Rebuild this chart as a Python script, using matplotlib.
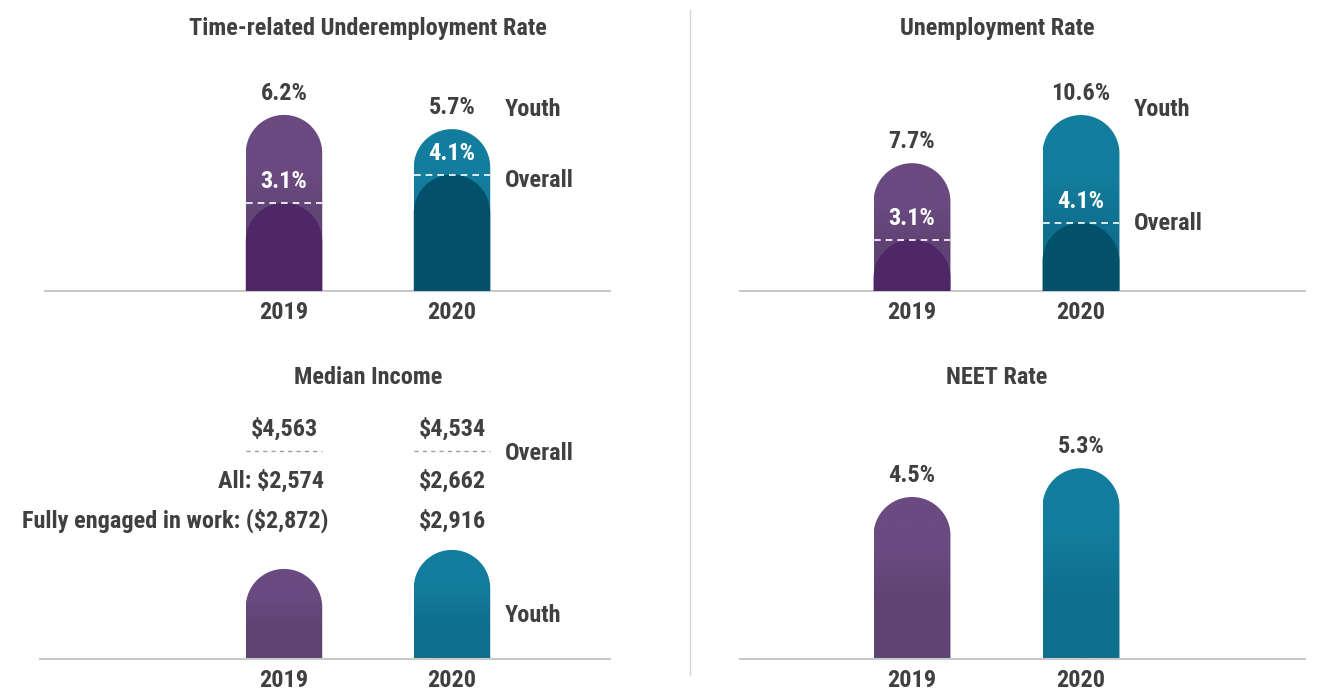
import numpy as np
import matplotlib
matplotlib.use("Agg")
import matplotlib.pyplot as plt
from matplotlib.path import Path
from matplotlib.patches import PathPatch
from matplotlib.colors import LinearSegmentedColormap
from matplotlib import font_manager as fm

# ---------------- data ----------------
years = ["2019", "2020"]
underemp_youth = [6.2, 5.7]
underemp_overall = [3.1, 4.1]
unemp_youth = [7.7, 10.6]
unemp_overall = [3.1, 4.1]
income_overall = [4563, 4534]
income_youth_all = [2574, 2662]
income_youth_engaged = [2872, 2916]
neet_youth = [4.5, 5.3]


# ---------------- font: pick a bold condensed face if one is installed ----------------
def pick_font():
    pref = ['Roboto Condensed', 'Liberation Sans Narrow', 'Noto Sans', 'Open Sans',
            'DejaVu Sans', 'Roboto', 'Inter', 'Lato']
    found = []
    for f in fm.fontManager.ttflist:
        st = f.stretch
        if isinstance(st, str):
            st = fm.stretch_dict.get(st, 500)
        w = f.weight
        if isinstance(w, str):
            w = fm.weight_dict.get(w, 400)
        if f.style != 'normal' or w < 600 or w > 800:
            continue
        if 200 <= st <= 300:
            rank = pref.index(f.name) if f.name in pref else len(pref)
            found.append((rank, abs(st - 300), abs(w - 700), f.fname))
    if found:
        found.sort()
        return fm.FontProperties(fname=found[0][3])
    return fm.FontProperties(family='DejaVu Sans', weight='bold')


BASE_FP = pick_font()


def fp(size):
    p = BASE_FP.copy()
    p.set_size(size)
    return p


# ---------------- style ----------------
W, H = 1319, 690
TXT = "#404040"
FS = 17.5
PURPLE = ("#6a4a80", "#5f4373")
TEAL = ("#137d9e", "#0f6f8e")
DARK_PURPLE = "#4f2766"
DARK_TEAL = "#03506a"
GRID = "#c9c9c9"

fig = plt.figure(figsize=(W / 100, H / 100), dpi=100)
fig.patch.set_facecolor("white")


def px_axes(left, right, baseline, top):
    return fig.add_axes([left / W, 1 - baseline / H, (right - left) / W, (baseline - top) / H])


def ptxt(x, y, s, **kw):
    kw.setdefault("color", TXT)
    fig.text(x / W, 1 - (y + 2) / H, s, fontproperties=fp(FS), **kw)


def rounded_path(ax, x, h, w, b):
    xl, xr = ax.get_xlim()
    yb, yt = ax.get_ylim()
    ppx = ax.bbox.width / (xr - xl)
    ppy = ax.bbox.height / (yt - yb)
    ry = (w / 2) * ppx / ppy
    cy = max(h - ry, b)
    t = np.linspace(np.pi, 0, 80)
    xs = np.concatenate([[x - w / 2, x - w / 2], x + w / 2 * np.cos(t), [x + w / 2, x - w / 2]])
    ys = np.concatenate([[b, cy], cy + ry * np.sin(t), [b, b]])
    return Path(np.column_stack([xs, ys]))


def bar(ax, x, h, w, colors, b=0, z=2):
    path = rounded_path(ax, x, h, w, b)
    if isinstance(colors, tuple):
        patch = PathPatch(path, facecolor="none", edgecolor="none", transform=ax.transData)
        ax.add_patch(patch)
        cmap = LinearSegmentedColormap.from_list("g", [colors[1], colors[1], colors[0], colors[0]])
        grad = np.linspace(0, 1, 256).reshape(-1, 1)
        im = ax.imshow(grad, extent=[x - w / 2, x + w / 2, b, h], origin="lower",
                       aspect="auto", cmap=cmap, zorder=z, interpolation="bilinear")
        im.set_clip_path(patch)
    else:
        ax.add_patch(PathPatch(path, facecolor=colors, edgecolor="none", zorder=z))


def setup(ax, xlim, ylim):
    ax.set_xlim(*xlim)
    ax.set_ylim(*ylim)
    for s in ("top", "right", "left"):
        ax.spines[s].set_visible(False)
    ax.spines["bottom"].set_color(GRID)
    ax.spines["bottom"].set_linewidth(1.5)
    ax.set_yticks([])
    ax.set_xticks([0, 1])
    ax.set_xticklabels(years, color=TXT)
    for lab in ax.get_xticklabels():
        lab.set_fontproperties(fp(FS))
    ax.tick_params(axis="x", length=0, pad=7)
    ax.patch.set_alpha(0)


def label(ax, x, y, s, off, color=TXT, z=5):
    ax.annotate(s, (x, y), xytext=(0, off), textcoords="offset points", ha="center",
                va="baseline", fontproperties=fp(FS), color=color, zorder=z)


BW = 0.455
xs = [0, 1]
cols = [PURPLE, TEAL]
dcols = [DARK_PURPLE, DARK_TEAL]

# ---------- Top-left: Time-related Underemployment ----------
ax1 = px_axes(45, 610, 291, 60)
lim1 = ((45 - 284) / 168, (610 - 284) / 168)
ylim1 = (0, 231 / 28.4)
setup(ax1, lim1, ylim1)
for i in xs:
    bar(ax1, i, underemp_youth[i], BW, cols[i])
    bar(ax1, i, underemp_overall[i], BW, dcols[i], z=3)
    ax1.plot([i - BW / 2, i + BW / 2], [underemp_overall[i]] * 2, color="white",
             lw=1.2, ls=(0, (4, 3)), zorder=4)
    label(ax1, i, underemp_youth[i], f"{underemp_youth[i]}%", 11)
    label(ax1, i, underemp_overall[i], f"{underemp_overall[i]}%", 10.5, color="white")
ax1.set_xlim(*lim1); ax1.set_ylim(*ylim1)
ptxt(368, 27, "Time-related Underemployment Rate", ha="center", va="center")
ptxt(505, 108, "Youth", ha="left", va="center")
ptxt(505, 178, "Overall", ha="left", va="center")

# ---------- Top-right: Unemployment ----------
ax2 = px_axes(740, 1305, 291, 60)
lim2 = ((740 - 912) / 169, (1305 - 912) / 169)
ylim2 = (0, 231 / 16.6)
setup(ax2, lim2, ylim2)
for i in xs:
    bar(ax2, i, unemp_youth[i], BW, cols[i])
    bar(ax2, i, unemp_overall[i], BW, dcols[i], z=3)
    ax2.plot([i - BW / 2, i + BW / 2], [unemp_overall[i]] * 2, color="white",
             lw=1.2, ls=(0, (4, 3)), zorder=4)
    label(ax2, i, unemp_youth[i], f"{unemp_youth[i]}%", 11)
    label(ax2, i, unemp_overall[i], f"{unemp_overall[i]}%", 10.5, color="white")
ax2.set_xlim(*lim2); ax2.set_ylim(*ylim2)
ptxt(997, 27, "Unemployment Rate", ha="center", va="center")
ptxt(1134, 108, "Youth", ha="left", va="center")
ptxt(1134, 222, "Overall", ha="left", va="center")

# ---------- Bottom-left: Median Income ----------
ax3 = px_axes(40, 610, 659, 420)
lim3 = ((40 - 284) / 168, (610 - 284) / 168)
floor3 = 2157
ylim3 = (floor3, floor3 + 239 / 0.216)
setup(ax3, lim3, ylim3)
for i in xs:
    bar(ax3, i, income_youth_all[i], BW, cols[i], b=floor3)
ax3.set_xlim(*lim3); ax3.set_ylim(*ylim3)
ptxt(368, 376, "Median Income", ha="center", va="center")
ptxt(284, 427, f"${income_overall[0]:,}", ha="center", va="center")
ptxt(452, 427, f"${income_overall[1]:,}", ha="center", va="center")
for cx in (284, 452):
    fig.add_artist(plt.Line2D([(cx - 38) / W, (cx + 38) / W], [1 - 451 / H] * 2,
                              color="#9a9a9a", lw=1, ls=(0, (3, 3))))
ptxt(505, 452, "Overall", ha="left", va="center")
ptxt(324, 479, f"All: ${income_youth_all[0]:,}", ha="right", va="center")
ptxt(452, 479, f"${income_youth_all[1]:,}", ha="center", va="center")
ptxt(328, 519, f"Fully engaged in work: (${income_youth_engaged[0]:,})", ha="right", va="center")
ptxt(452, 519, f"${income_youth_engaged[1]:,}", ha="center", va="center")
ptxt(505, 614, "Youth", ha="left", va="center")

# ---------- Bottom-right: NEET ----------
ax4 = px_axes(740, 1305, 659, 420)
lim4 = ((740 - 912) / 169, (1305 - 912) / 169)
ylim4 = (0, 239 / 36.0)
setup(ax4, lim4, ylim4)
for i in xs:
    bar(ax4, i, neet_youth[i], BW, cols[i])
    label(ax4, i, neet_youth[i], f"{neet_youth[i]}%", 11)
ax4.set_xlim(*lim4); ax4.set_ylim(*ylim4)
ptxt(997, 376, "NEET Rate", ha="center", va="center")

# divider
fig.add_artist(plt.Line2D([690 / W, 690 / W], [1 - 10 / H, 1 - 675 / H], color="#d4d4d4", lw=1))

fig.savefig("out.png", dpi=100, facecolor="white")
